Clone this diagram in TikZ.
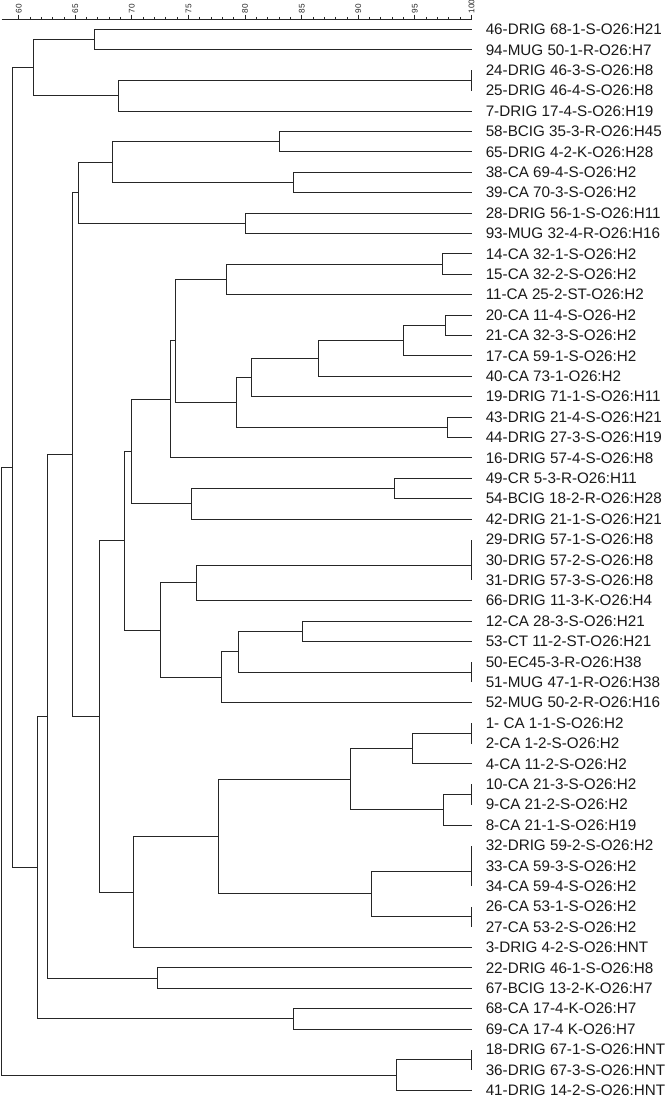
\documentclass[tikz,border=0pt]{standalone}
\usepackage{fontspec}
\setmainfont{Liberation Sans}
\usetikzlibrary{positioning}

\tikzset{
  branch/.style={draw=black!85, line width=0.8pt},
  leaflabel/.style={inner sep=0pt, font=\fontsize{13}{15}\selectfont, text=black!90},
  scalelabel/.style={inner sep=0pt, rotate=90, anchor=west, font=\fontsize{7}{8}\selectfont, text=black!85},
}

\begin{document}
\begin{tikzpicture}[x=3.396mm, y=-6.12mm]
\useasboundingbox (58.348,-1.446) rectangle (117.447,52.475);
% similarity scale
\draw[branch] (58.5,-0.515) -- (100,-0.515);
\foreach \v in {60,...,100}
  \draw[branch] (\v,-0.613) -- (\v,-0.515);
\foreach \v in {60,65,...,100} {
  \draw[branch] (\v,-0.735) -- (\v,-0.515);
  \node[scalelabel] (tick\v) at (\v,-0.77) {\v};
}
% isolates
\foreach \i/\t in {0/46-DRIG 68-1-S-O26:H21, 1/94-MUG 50-1-R-O26:H7,
    2/24-DRIG 46-3-S-O26:H8, 3/25-DRIG 46-4-S-O26:H8, 4/7-DRIG 17-4-S-O26:H19,
    5/58-BCIG 35-3-R-O26:H45, 6/65-DRIG 4-2-K-O26:H28, 7/38-CA 69-4-S-O26:H2,
    8/39-CA 70-3-S-O26:H2, 9/28-DRIG 56-1-S-O26:H11, 10/93-MUG 32-4-R-O26:H16,
    11/14-CA 32-1-S-O26:H2, 12/15-CA 32-2-S-O26:H2, 13/11-CA 25-2-ST-O26:H2,
    14/20-CA 11-4-S-O26-H2, 15/21-CA 32-3-S-O26:H2, 16/17-CA 59-1-S-O26:H2,
    17/40-CA 73-1-O26:H2, 18/19-DRIG 71-1-S-O26:H11, 19/43-DRIG 21-4-S-O26:H21,
    20/44-DRIG 27-3-S-O26:H19, 21/16-DRIG 57-4-S-O26:H8, 22/49-CR 5-3-R-O26:H11,
    23/54-BCIG 18-2-R-O26:H28, 24/42-DRIG 21-1-S-O26:H21, 25/29-DRIG 57-1-S-O26:H8,
    26/30-DRIG 57-2-S-O26:H8, 27/31-DRIG 57-3-S-O26:H8, 28/66-DRIG 11-3-K-O26:H4,
    29/12-CA 28-3-S-O26:H21, 30/53-CT 11-2-ST-O26:H21, 31/50-EC45-3-R-O26:H38,
    32/51-MUG 47-1-R-O26:H38, 33/52-MUG 50-2-R-O26:H16, 34/1- CA 1-1-S-O26:H2,
    35/2-CA 1-2-S-O26:H2, 36/4-CA 11-2-S-O26:H2, 37/10-CA 21-3-S-O26:H2,
    38/9-CA 21-2-S-O26:H2, 39/8-CA 21-1-S-O26:H19, 40/32-DRIG 59-2-S-O26:H2,
    41/33-CA 59-3-S-O26:H2, 42/34-CA 59-4-S-O26:H2, 43/26-CA 53-1-S-O26:H2,
    44/27-CA 53-2-S-O26:H2, 45/3-DRIG 4-2-S-O26:HNT, 46/22-DRIG 46-1-S-O26:H8,
    47/67-BCIG 13-2-K-O26:H7, 48/68-CA 17-4-K-O26:H7, 49/69-CA 17-4 K-O26:H7,
    50/18-DRIG 67-1-S-O26:HNT, 51/36-DRIG 67-3-S-O26:HNT, 52/41-DRIG 14-2-S-O26:HNT} {
  \coordinate (l\i) at (100,\i);
  \node[leaflabel, right=4.2mm of l\i] (txt\i) {\t};
}
% clusters
\coordinate (a1) at (66.68,0.5);
\coordinate (a2) at (100,2.5);
\coordinate (a3) at (68.77,3.25);
\coordinate (a4) at (61.29,1.875);
\coordinate (b1) at (83.02,5.5);
\coordinate (b2) at (84.29,7.5);
\coordinate (b3) at (68.24,6.5);
\coordinate (b4) at (80.02,9.5);
\coordinate (b5) at (65.30,8);
\coordinate (y1) at (97.39,11.5);
\coordinate (y2) at (78.37,12.25);
\coordinate (z1) at (97.66,14.5);
\coordinate (z2) at (93.98,15.25);
\coordinate (z3) at (86.47,16.125);
\coordinate (z4) at (80.52,17.0625);
\coordinate (z5) at (97.86,19.5);
\coordinate (z6) at (79.22,18.2813);
\coordinate (x1) at (73.87,15.2656);
\coordinate (w1) at (73.39,18.1328);
\coordinate (m1) at (93.15,22.5);
\coordinate (m2) at (75.22,23.25);
\coordinate (m3) at (69.98,20.6914);
\coordinate (t1) at (100,25.5);
\coordinate (t2) at (100,26.25);
\coordinate (t3) at (75.72,27.125);
\coordinate (v1) at (85.05,29.5);
\coordinate (v2) at (100,31.5);
\coordinate (v3) at (79.40,30.5);
\coordinate (u1) at (77.93,31.75);
\coordinate (s1) at (72.48,29.4375);
\coordinate (k1) at (69.30,25.0645);
\coordinate (q1) at (100,34.5);
\coordinate (q2) at (94.81,35.25);
\coordinate (q3) at (100,37.5);
\coordinate (q4) at (97.51,38.25);
\coordinate (q5) at (89.27,36.75);
\coordinate (r1) at (100,40.5);
\coordinate (r2) at (100,41.25);
\coordinate (r3) at (100,43.5);
\coordinate (r4) at (91.15,42.375);
\coordinate (p1) at (77.69,39.5625);
\coordinate (p2) at (70.16,42.2813);
\coordinate (k2) at (67.12,33.6729);
\coordinate (c1) at (64.73,20.8365);
\coordinate (d1) at (72.28,46.5);
\coordinate (d2) at (62.50,33.6682);
\coordinate (e1) at (84.29,48.5);
\coordinate (e2) at (61.64,41.0841);
\coordinate (f1) at (59.43,21.4796);
\coordinate (h1) at (100,50.5);
\coordinate (h2) at (93.39,51.25);
\coordinate (g1) at (58.50,36.3648);
\foreach \p/\c in {a1/l0, a1/l1, a2/l2, a2/l3, a3/a2, a3/l4, a4/a1, a4/a3,
    b1/l5, b1/l6, b2/l7, b2/l8, b3/b1, b3/b2, b4/l9, b4/l10, b5/b3, b5/b4,
    y1/l11, y1/l12, y2/y1, y2/l13, z1/l14, z1/l15, z2/z1, z2/l16, z3/z2, z3/l17,
    z4/z3, z4/l18, z5/l19, z5/l20, z6/z4, z6/z5, x1/y2, x1/z6, w1/x1, w1/l21,
    m1/l22, m1/l23, m2/m1, m2/l24, m3/w1, m3/m2,
    t1/l25, t1/l26, t2/t1, t2/l27, t3/t2, t3/l28, v1/l29, v1/l30, v2/l31, v2/l32,
    v3/v1, v3/v2, u1/v3, u1/l33, s1/t3, s1/u1, k1/m3, k1/s1,
    q1/l34, q1/l35, q2/q1, q2/l36, q3/l37, q3/l38, q4/q3, q4/l39, q5/q2, q5/q4,
    r1/l40, r1/l41, r2/r1, r2/l42, r3/l43, r3/l44, r4/r2, r4/r3, p1/q5, p1/r4,
    p2/p1, p2/l45, k2/k1, k2/p2, c1/b5, c1/k2, d1/l46, d1/l47, d2/c1, d2/d1,
    e1/l48, e1/l49, e2/d2, e2/e1, f1/a4, f1/e2, h1/l50, h1/l51, h2/h1, h2/l52,
    g1/f1, g1/h2}
  \draw[branch] (\p) |- (\c);
\end{tikzpicture}
\end{document}
